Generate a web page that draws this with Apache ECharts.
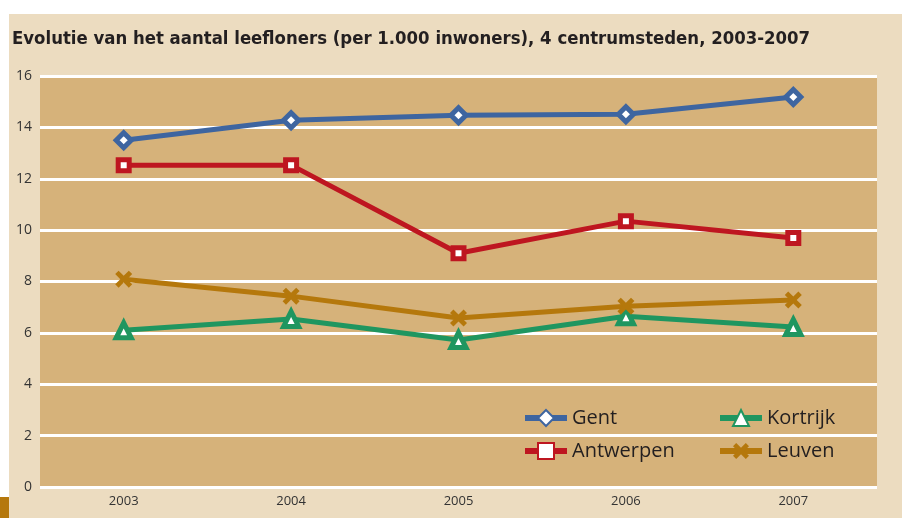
<!DOCTYPE html>
<html>
<head>
<meta charset="utf-8">
<script src="https://cdn.jsdelivr.net/npm/echarts@6/dist/echarts.min.js"></script>
<style>
  html, body { margin: 0; padding: 0; background: #fff; }
  #chart { width: 902px; height: 518px; }
</style>
</head>
<body>
<div id="chart"></div>
<script>
const years = ['2003', '2004', '2005', '2006', '2007']
const gent = [13.5, 14.28, 14.47, 14.51, 15.18]
const antwerpen = [12.53, 12.53, 9.1, 10.35, 9.69]
const kortrijk = [6.1, 6.54, 5.72, 6.65, 6.23]
const leuven = [8.09, 7.43, 6.58, 7.04, 7.28]

const crossPath = 'path://M2,0 L5,3 L8,0 L10,2 L7,5 L10,8 L8,10 L5,7 L2,10 L0,8 L3,5 L0,2 Z'
const font = '"Open Sans", "DejaVu Sans", sans-serif'

const chart = echarts.init(document.getElementById('chart'))

function lineSeries(name, data, color, symbol, size, hollow) {
  return {
    name: name,
    type: 'line',
    data: data,
    symbol: symbol,
    symbolSize: size,
    showAllSymbol: true,
    lineStyle: { color: color, width: 5 },
    itemStyle: hollow
      ? { color: '#fff', borderColor: color, borderWidth: 5 }
      : { color: color, borderColor: color, borderWidth: 0 },
    z: 3
  }
}

const legendBase = {
  orient: 'vertical', top: 403, itemGap: 13,
  itemWidth: 42, itemHeight: 20,
  lineStyle: { width: 6 },
  textStyle: { fontSize: 20, fontFamily: font, color: '#231f20', padding: [0, 0, 0, 0] }
}

const option = {
  backgroundColor: '#fff',
  animation: false,
  graphic: [
    { type: 'rect', shape: { x: 9, y: 14, width: 893, height: 504 }, style: { fill: '#ecdcc0' }, z: -10 },
    { type: 'rect', shape: { x: 0, y: 497, width: 9, height: 21 }, style: { fill: '#b5780c' }, z: -10 },
    {
      type: 'text', left: 12, top: 30,
      style: {
        text: 'Evolutie van het aantal leefloners (per 1.000 inwoners), 4 centrumsteden, 2003-2007',
        font: 'bold 18.4px "Liberation Sans Narrow", "DejaVu Sans Condensed", sans-serif',
        fill: '#231f20'
      }
    }
  ],
  grid: {
    left: 40, right: 25, top: 76, bottom: 31,
    show: true, backgroundColor: '#d6b27a', borderWidth: 0
  },
  xAxis: {
    type: 'category',
    data: years,
    boundaryGap: true,
    axisLine: { show: false },
    axisTick: { show: false },
    axisLabel: { color: '#333', fontSize: 13, fontFamily: font, margin: 8 }
  },
  yAxis: {
    type: 'value',
    min: 0, max: 16, interval: 2,
    axisLine: { show: false },
    axisTick: { show: false },
    axisLabel: { color: '#333', fontSize: 14, fontFamily: font, margin: 8 },
    splitLine: { lineStyle: { color: '#fff', width: 3 } }
  },
  legend: [
    Object.assign({}, legendBase, { data: ['Gent', 'Antwerpen'], left: 517 }),
    Object.assign({}, legendBase, { data: ['Kortrijk', 'Leuven'], left: 712 })
  ],
  series: [
    lineSeries('Gent', gent, '#3e65a0', 'diamond', 15, true),
    lineSeries('Antwerpen', antwerpen, '#be1620', 'rect', 11, true),
    lineSeries('Kortrijk', kortrijk, '#1f9660', 'triangle', 15, true),
    lineSeries('Leuven', leuven, '#b5780c', crossPath, 17, false)
  ]
}

chart.setOption(option)
</script>
</body>
</html>
